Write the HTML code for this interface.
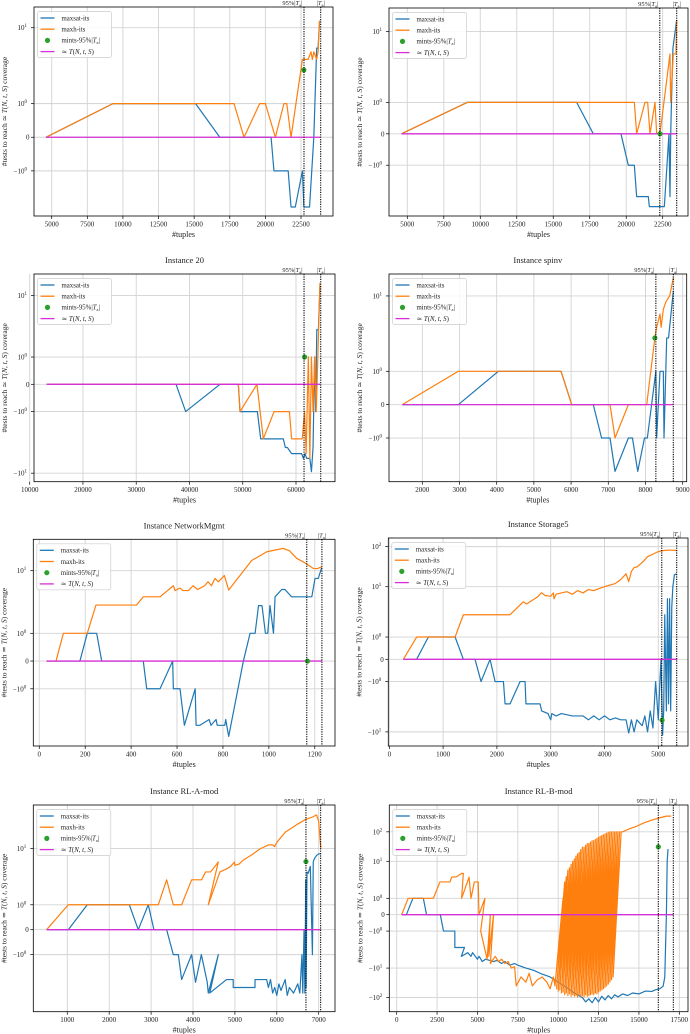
<!DOCTYPE html>
<html><head><meta charset="utf-8"><style>
html,body{margin:0;padding:0;background:#fff;}
svg{display:block;font-family:"Liberation Serif","DejaVu Serif",serif;}
</style></head><body>
<svg id="fig" width="690" height="1034" viewBox="0 0 690 1034" xmlns="http://www.w3.org/2000/svg"></svg>
<script>
// ---- Panel 1 ----
const p1_blue_x=[4600,9300,15100,16800,20400,20600,21600,21800,22100,22600,22700,23100,23400,23600,23700,23800];
const p1_blue_y=[0,1,1,0,0,-1,-1,-2.2,-2.2,-1,-2.2,-2.2,0,4.6,4.6,13];
const p1_orange_x=[4600,9300,17800,18500,19600,20000,20700,21300,21500,21800,22600,23000,23200,23300,23400,23600,23700,23800];
const p1_orange_y=[0,1,1,0,1,1,0,1,1,0,3,3,4,3,4,3,4,13];
const p1_green_x=[22700]; const p1_green_y=[2];
const p1_xticks=[5000,7500,10000,12500,15000,17500,20000,22500];
const p1_yticks=[10,1,0,-1];
// ---- Panel 2 ----
const p2_blue_x=[4600,9100,16604,17746,19640,20144,20556,20716,21516,21585,22613,22930,23000,23050,23100,23200,23456];
const p2_blue_y=[0,1,1,0,0,-1,-1,-2,-2,-3,-3,0,-2,0,1,5,16];
const p2_orange_x=[4600,9100,20556,20716,21287,21470,21630,21972,22086,22314,23000,23044,23227,23410,23456];
const p2_orange_y=[0,1,1,0,1,1,0,1,0,0,4,1,4,4,16];
const p2_green_x=[22314]; const p2_green_y=[0];
const p2_xticks=[5000,7500,10000,12500,15000,17500,20000,22500];
const p2_yticks=[10,1,0,-1];
// ---- Panel 3 ----
const p3_blue_x=[13186,37474,39284,45732,49176,49489,52746,53373,57624,58000,58380,59180,61060,61400,61700,62000,62600,62900,63200,63500,63700,63900,64200,64500];
const p3_blue_y=[0,0,-1,0,0,-1,-1,-2,-2,-3,-3,-4,-4,-5,-4,-5,-5,-9.3,-3,1,-1,2,2,16];
const p3_orange_x=[13186,49176,49489,52668,53860,55890,58760,59180,61173,61611,61900,62320,62600,62900,63200,63500,63800,64100,64500];
const p3_orange_y=[0,0,-1,0,-2,-1,-1,-2,-2,-1,-4,1,-5,1,-1,1,-1,1,18];
const p3_green_x=[61611]; const p3_green_y=[1];
const p3_xticks=[10000,20000,30000,40000,50000,60000];
const p3_yticks=[10,1,0,-1,-10];
// ---- Panel 4 ----
const p4_blue_x=[1463,2968,4045,5730,6017,6596,6820,7047,7181,7540,7650,7791,7974,8050,8279,8300,8390,8480,8498,8570,8620,8748];
const p4_blue_y=[0,0,1,1,0,0,-1,-1,-2,-1,-1,-2,-1,-1,1,-1,1,1,-1,2,2,12];
const p4_orange_x=[1463,2968,5730,6017,7047,7181,7540,8033,8252,8300,8390,8420,8480,8550,8650,8748];
const p4_orange_y=[0,1,1,0,0,-1,0,0,2,3,5,3,6,8,10,20];
const p4_green_x=[8252]; const p4_green_y=[2];
const p4_xticks=[2000,3000,4000,5000,6000,7000,8000,9000];
const p4_yticks=[10,1,0,-1];
// ---- Panel 5 ----
const p5_blue_x=[32,177,209,250,272,453,468,526,581,584,613,632,679,683,700,740,748,770,775,808,812,825,889,918,940,955,970,985,995,1005,1020,1027,1056,1070,1099,1187,1201,1215,1230];
const p5_blue_y=[0,0,1,1,0,0,-1,-1,0,-1,-1,-3,-1,-3,-3,-2.3,-3,-2.3,-3,-3,-2.3,-5,0,1,1,2,2,1,1,2,1,3,4.2,4.2,3,3,7,7,11.5];
const p5_orange_x=[32,73,105,209,247,424,453,526,584,591,613,625,650,670,690,720,735,750,765,780,806,825,925,991,1063,1090,1121,1150,1194,1210,1230];
const p5_orange_y=[0,0,1,1,2.05,2.05,3,3,5,4,4.5,4,4,5,4.2,5,6,5,7,6,8,4.1,16,24,28,25,17.7,15,11.1,11,12];
const p5_green_x=[1168]; const p5_green_y=[0];
const p5_xticks=[0,200,400,600,800,1000,1200];
const p5_yticks=[10,1,0,-1];
// ---- Panel 6 ----
const p6_blue_x=[261,508,726,1223,1376,1593,1705,1872,1966,2121,2152,2244,2430,2523,2540,2801,2832,2950,3000,3020,3100,3200,3400,3600,3700,3800,3900,4000,4100,4200,4300,4400,4450,4500,4550,4600,4700,4750,4800,4850,4900,4950,5000,5030,5050,5080,5100,5120,5150,5170,5190,5210,5230,5250,5270,5300,5340];
const p6_blue_y=[0,0,1,1,0,0,-1,0,-1,-1,-2,-2,-1,-1,-2,-2,-3,-3.5,-5,-3.5,-4,-3.5,-4,-4,-5,-4,-5,-4,-5,-4.5,-5,-5,-10.7,-5,-10,-5,-7,-4,-10,-3,-8,-1,-5,-1,0,-12,-3,2,-3,5,-2,5,-3,3,10,20,21];
const p6_orange_x=[261,508,1223,1376,2244,2491,2550,2750,2830,2900,3000,3050,3060,3100,3300,3400,3500,3600,3700,3800,3900,4000,4100,4200,4300,4400,4450,4500,4550,4600,4700,4800,4900,5000,5100,5200,5340];
const p6_orange_y=[0,1,1,2,2,4.2,3.7,5.5,7.1,6,5.8,7,5,6.5,7.5,6.5,8,7,8.5,8,9,10,11,12,15,21,13.4,24,30,31,40,56,65,75,80,82,80];
const p6_green_x=[5070]; const p6_green_y=[-5.1];
const p6_xticks=[0,1000,2000,3000,4000,5000];
const p6_yticks=[100,10,1,0,-1,-10];
// ---- Panel 7 ----
const p7_blue_x=[507,1024,1477,2480,2694,2933,3068,3371,3530,3650,3729,3967,4060,4200,4340,4365,4604,4400,4800,4960,4960,5480,5480,5757,5800,5850,5900,5950,6000,6050,6100,6200,6250,6300,6400,6500,6550,6600,6620,6650,6670,6690,6700,6720,6750,6800,6850,6870,6900,6950,7000,7050];
const p7_blue_y=[0,0,1,1,0,1,0,0,-1,-1,-2,-1,-2.3,-1,-2.3,-4,-1,-4,-2,-2,-3,-3,-2,-2,-3,-2,-4,-3,-4.5,-2.5,-3.5,-2,-4.5,-3,-4,-2.5,-4,-1,-4,0,-4,2,-3,3,2.8,4,-1,5,6,7,7.6,7.6];
const p7_orange_x=[507,1024,3172,3371,3530,3729,3967,4206,4300,4420,4604,4365,4643,4800,4900,4990,5000,5100,5200,5400,5600,5800,5900,5950,6000,6200,6500,6700,6850,6950,7000,7050];
const p7_orange_y=[0,1,1,2,1,1,2,2,3,3,5,1,3,3.5,4,5,4.2,4.5,5.5,7.2,9.8,12,12,11,13.7,23,35,45,50,56,40,10];
const p7_green_x=[6696]; const p7_green_y=[5.1];
const p7_xticks=[1000,2000,3000,4000,5000,6000,7000];
const p7_yticks=[10,1,0,-1];
// ---- Panel 8 ----
const p8_blue_x=[307,600,1000,1650,1850,2700,2900,3600,3600,4200,4000,4400,4600,4700,5000,5100,5300,5500,6000,6200,6500,6700,7000,7300,7500,8000,8500,9000,9500,10000,10500,11000,11500,11700,11900,12100,12300,12500,12700,12900,13100,13300,13500,13700,14000,14300,14600,15000,15400,15800,16000,16300,16500,16600,16700,16750,16800];
const p8_blue_y=[0,0,1,1,0,0,-1,-1,-2,-2,-4,-3,-4,-3,-5,-4,-6,-5,-6,-5.5,-7,-6,-8,-7,-8,-10,-12,-16,-20,-30,-45,-70,-100,-140,-110,-150,-100,-140,-90,-120,-85,-110,-80,-95,-75,-85,-70,-75,-60,-62,-55,-50,-41,-20,0,10,26];
const p8_orange_x=[307,712,2270,2680,3300,3400,3700,4020,4126,4020,4480,4600,4810,5050,5092,5463,5200,5600,5800,5700,6000,5800,6100,6300,6500,6700,6900,7100,7300,7400,7700,8000,8200,8400,8700,9000,9300,9500,9700,
9800,10300,9900,10400,10000,10500,10100,10600,10200,10700,10300,10800,10400,10900,10500,11000,10600,11100,10700,11200,10800,11300,10900,11400,11000,11500,11100,11600,11200,11700,11300,11800,11400,11900,11500,12000,11600,12100,11700,12200,11800,12300,11900,12400,12000,12500,12100,12600,12200,12700,12300,12800,12400,12900,12500,13000,12600,13100,12700,13200,12800,13300,12900,13400,13000,13500,13100,13600,13200,13700,13300,13800,13400,13900,
14000,14300,14800,15300,15800,16300,16700,17000];
const p8_orange_y=[0,1,1,2,2,2.9,3,3.9,3.9,1,2.9,1,2,2,0,1,-1,-5,0,-4,0,-7,-4,-6,-5,-7,-6,-10,-9,-40,-20,-30,-15,-40,-25,-20,-30,-50,-20,
-40,1,-50,2,-60,3,-55,5,-70,6,-65,8,-80,10,-70,12,-85,15,-75,18,-90,20,-80,25,-90,30,-85,30,-95,35,-80,40,-90,40,-85,45,-95,50,-80,50,-90,55,-85,60,-80,65,-75,70,-80,75,-70,80,-75,85,-65,90,-60,95,-55,100,-50,100,-45,100,-40,100,-35,100,-30,100,-25,100,-20,100,
100,120,150,200,250,300,340,340];
const p8_green_x=[16200]; const p8_green_y=[31];
const p8_xticks=[0,2500,5000,7500,10000,12500,15000,17500];
const p8_yticks=[100,10,1,0,-1,-10,-100];

const panels=[
 {name:'panel-1',title:'',box:[34,7,333,216],xlim:[3758,24746],ylim:[-3.1,22],mag:[4600,23880],vl:[22710,23880],bx:p1_blue_x,by:p1_blue_y,ox:p1_orange_x,oy:p1_orange_y,gx:p1_green_x,gy:p1_green_y,xt:p1_xticks,yt:p1_yticks},
 {name:'panel-2',title:'',box:[389,8,688,216],xlim:[3746,24234],ylim:[-4.4,26],mag:[4600,23456],vl:[22300,23460],bx:p2_blue_x,by:p2_blue_y,ox:p2_orange_x,oy:p2_orange_y,gx:p2_green_x,gy:p2_green_y,xt:p2_xticks,yt:p2_yticks},
 {name:'panel-instance-20',title:'Instance 20',box:[34,274,335,481.7],xlim:[10807,67323],ylim:[-14.9,27.3],mag:[13186,64500],vl:[61511,64640],bx:p3_blue_x,by:p3_blue_y,ox:p3_orange_x,oy:p3_orange_y,gx:p3_green_x,gy:p3_green_y,xt:p3_xticks,yt:p3_yticks},
 {name:'panel-instance-spinv',title:'Instance spinv',box:[389,274,686.7,481.7],xlim:[1105,9108],ylim:[-2.97,23.2],mag:[1463,8748],vl:[8279,8748],bx:p4_blue_x,by:p4_blue_y,ox:p4_orange_x,oy:p4_orange_y,gx:p4_green_x,gy:p4_green_y,xt:p4_xticks,yt:p4_yticks},
 {name:'panel-instance-networkmgmt',title:'Instance NetworkMgmt',box:[33.3,539.3,335,746],xlim:[-26,1288],ylim:[-7.8,42.6],mag:[32,1231],vl:[1165,1231],bx:p5_blue_x,by:p5_blue_y,ox:p5_orange_x,oy:p5_orange_y,gx:p5_green_x,gy:p5_green_y,xt:p5_xticks,yt:p5_yticks},
 {name:'panel-instance-storage5',title:'Instance Storage5',box:[388.3,538,688,746],xlim:[-19,5552],ylim:[-22.5,164],mag:[261,5342],vl:[5064,5342],bx:p6_blue_x,by:p6_blue_y,ox:p6_orange_x,oy:p6_orange_y,gx:p6_green_x,gy:p6_green_y,xt:p6_xticks,yt:p6_yticks},
 {name:'panel-instance-rl-a-mod',title:'Instance RL-A-mod',box:[33.3,805,335,1011.7],xlim:[189,7389],ylim:[-10.4,93],mag:[507,7046],vl:[6696,7046],bx:p7_blue_x,by:p7_blue_y,ox:p7_orange_x,oy:p7_orange_y,gx:p7_green_x,gy:p7_green_y,xt:p7_xticks,yt:p7_yticks},
 {name:'panel-instance-rl-b-mod',title:'Instance RL-B-mod',box:[389.3,805,688,1011.7],xlim:[-458,18038],ylim:[-301,811],mag:[307,17130],vl:[16200,17130],bx:p8_blue_x,by:p8_blue_y,ox:p8_orange_x,oy:p8_orange_y,gx:p8_green_x,gy:p8_green_y,xt:p8_xticks,yt:p8_yticks}
];

const NS='http://www.w3.org/2000/svg';
const svg=document.getElementById('fig');
function mk(tag,attrs,parent){const e=document.createElementNS(NS,tag);for(const k in attrs)e.setAttribute(k,attrs[k]);(parent||svg).appendChild(e);return e;}
const LT=2, C=1/(1-0.1);
function sym(v){const a=Math.abs(v);if(a<=LT)return v/LT*C;return Math.sign(v)*(C+Math.log10(a/LT));}
function fmtY(v){if(v===0)return ['0',''];const s=v<0?'\u221210':'10';return [s,String(Math.round(Math.log10(Math.abs(v))))];}

panels.forEach(p=>{
 const [L,T,R,B]=p.box;
 const g=mk('g',{});
 
 
 const X=v=>L+(v-p.xlim[0])/(p.xlim[1]-p.xlim[0])*(R-L);
 const gmin=sym(p.ylim[0]),gmax=sym(p.ylim[1]);
 const Y=v=>T+(gmax-sym(v))/(gmax-gmin)*(B-T);
 p.xt.forEach(t=>{const x=X(t);
  const gl=mk('line',{x1:x,x2:x,y1:T,y2:B,stroke:'#d3d3d3','stroke-width':0.9},g);
  
  mk('line',{x1:x,x2:x,y1:B,y2:B+3,stroke:'#000','stroke-width':0.7},g);
  const tx=mk('text',{x:x,y:B+10.5,'font-size':7,'text-anchor':'middle',fill:'#222'},g);tx.textContent=String(t);
  
 });
 p.yt.forEach(t=>{const y=Y(t);
  const gl=mk('line',{x1:L,x2:R,y1:y,y2:y,stroke:'#d3d3d3','stroke-width':0.9},g);
  
  mk('line',{x1:L-3,x2:L,y1:y,y2:y,stroke:'#000','stroke-width':0.7},g);
  const f=fmtY(t);
  const tx=mk('text',{x:L-4.5,y:y+2.5,'font-size':7,'text-anchor':'end',fill:'#222'},g);
  
  if(f[1]===''){tx.textContent=f[0];}else{
   const a=mk('tspan',{},tx);a.textContent=f[0];
   const b=mk('tspan',{dy:-3,'font-size':5},tx);b.textContent=f[1];
   tx.setAttribute('x',L-7);
  }
 });
 const clipId='clip-'+p.name;
 const cp=mk('clipPath',{id:clipId},g);mk('rect',{x:L,y:T,width:R-L,height:B-T},cp);
 const plot=mk('g',{'clip-path':'url(#'+clipId+')'},g);
 function series(xs,ys,color,nm){
  const n=Math.min(xs.length,ys.length);let d='';
  for(let i=0;i<n;i++)d+=(i?'L':'M')+X(xs[i]).toFixed(2)+' '+Y(ys[i]).toFixed(2);
  const e=mk('path',{d:d,fill:'none',stroke:color,'stroke-width':1.2,'stroke-linejoin':'round'},plot);
  
 }
 series(p.bx,p.by,'#1f77b4','maxsat-its-line');
 series(p.ox,p.oy,'#ff7f0e','maxh-its-line');
 const mg=mk('line',{x1:X(p.mag[0]),x2:X(p.mag[1]),y1:Y(0),y2:Y(0),stroke:'#d62fd6','stroke-width':1.3},plot);
 
 for(let i=0;i<p.gx.length;i++){
  const c=mk('circle',{cx:X(p.gx[i]),cy:Y(p.gy[i]),r:2.6,fill:'#2ca02c'},plot);
  
 }
 p.vl.forEach((v,i)=>{const x=X(v);
  const l=mk('line',{x1:x,x2:x,y1:T,y2:B,stroke:'#000','stroke-width':1.1,'stroke-dasharray':'1.2,1.2'},g);
  
  const t=mk('text',{x:i?x:x-1.5,y:T-2,'font-size':6.5,'text-anchor':i?'middle':'end',fill:'#222'},g);
  
  if(i===0){const a=mk('tspan',{},t);a.textContent='95%|';}else{const a=mk('tspan',{},t);a.textContent='|';}
  const b=mk('tspan',{'font-style':'italic'},t);b.textContent='T';
  const c=mk('tspan',{dy:1.5,'font-size':4.5},t);c.textContent='a';
  const d=mk('tspan',{dy:-1.5},t);d.textContent='|';
 });
 const sp=mk('rect',{x:L,y:T,width:R-L,height:B-T,fill:'none',stroke:'#000','stroke-width':0.8},g);
 
 const xl=mk('text',{x:(L+R)/2,y:B+21,'font-size':8,'text-anchor':'middle',fill:'#222'},g);xl.textContent='#tuples';
 
 const yx=L-27,yy=(T+B)/2;
 const yl=mk('text',{x:yx,y:yy,'font-size':7.5,'text-anchor':'middle',fill:'#222',transform:'rotate(-90 '+yx+' '+yy+')'},g);
 
 yl.appendChild(document.createTextNode('#tests to reach \u2243 '));
 const it=mk('tspan',{'font-style':'italic'},yl);it.textContent='T';
 yl.appendChild(document.createTextNode('('));
 const it2=mk('tspan',{'font-style':'italic'},yl);it2.textContent='N, t, S';
 yl.appendChild(document.createTextNode(') coverage'));
 if(p.title){const tt=mk('text',{x:(L+R)/2,y:T-11,'font-size':8.5,'text-anchor':'middle',fill:'#222'},g);tt.textContent=p.title;
  }
 const lg=mk('g',{},g);
 const lx=L+3.5,ly=T+4.5;
 mk('rect',{x:lx,y:ly,width:74,height:46,rx:2,fill:'#fff','fill-opacity':0.85,stroke:'#ccc','stroke-width':0.7},lg);
 const rows=[['#1f77b4','line'],['#ff7f0e','line'],['#2ca02c','dot'],['#d62fd6','line']];
 rows.forEach((r,i)=>{const ry=ly+6.5+i*11.2;
  const e=mk('g',{},lg);
  if(r[1]==='line')mk('line',{x1:lx+3,x2:lx+17,y1:ry,y2:ry,stroke:r[0],'stroke-width':1.3},e);
  else mk('circle',{cx:lx+10,cy:ry,r:2.6,fill:r[0]},e);
  const t=mk('text',{x:lx+24,y:ry+2.3,'font-size':6.8,fill:'#222'},e);
  if(i===0)t.textContent='maxsat-its';
  else if(i===1)t.textContent='maxh-its';
  else if(i===2){t.appendChild(document.createTextNode('mints-95%|'));const b=mk('tspan',{'font-style':'italic'},t);b.textContent='T';const c=mk('tspan',{dy:1.5,'font-size':4.5},t);c.textContent='a';const d=mk('tspan',{dy:-1.5},t);d.textContent='|';}
  else {t.appendChild(document.createTextNode('\u2243 '));const b=mk('tspan',{'font-style':'italic'},t);b.textContent='T';t.appendChild(document.createTextNode('('));const c=mk('tspan',{'font-style':'italic'},t);c.textContent='N, t, S';t.appendChild(document.createTextNode(')'));}
 });
});
</script>
</body></html>
